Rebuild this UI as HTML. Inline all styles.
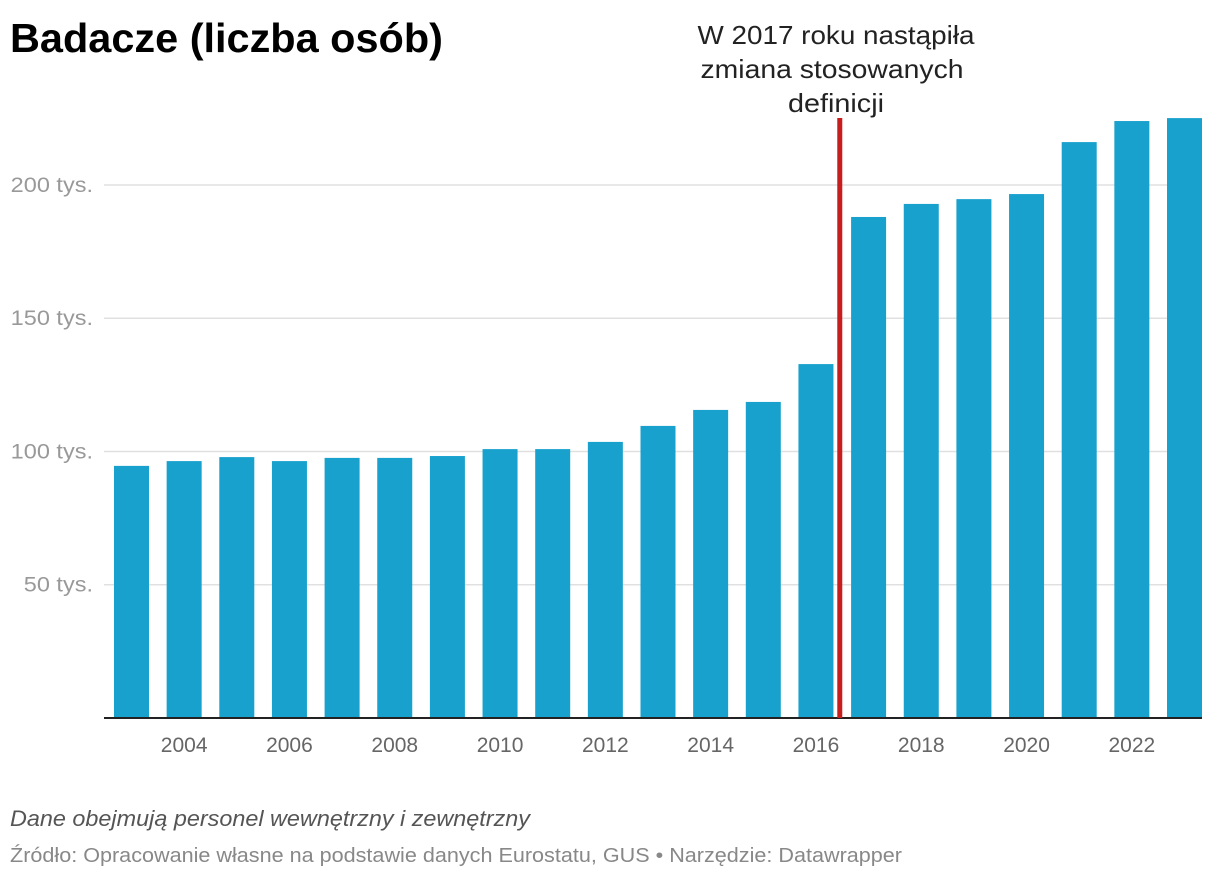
<!DOCTYPE html>
<html><head><meta charset="utf-8"><style>
body{margin:0;background:#fff;width:1220px;height:878px;overflow:hidden;font-family:"Liberation Sans",sans-serif}
</style></head><body>
<svg width="1220" height="878" id="svg">
<text x="10" y="52" font-size="41" font-weight="bold" fill="#000" textLength="433" lengthAdjust="spacingAndGlyphs">Badacze (liczba osób)</text>
<g id="grid"></g><g id="bars"></g>
<g font-size="26" fill="#222" text-anchor="middle">
<text x="836" y="44" textLength="277" lengthAdjust="spacingAndGlyphs">W 2017 roku nastąpiła</text>
<text x="832" y="78" textLength="263" lengthAdjust="spacingAndGlyphs">zmiana stosowanych</text>
<text x="836" y="112" textLength="96" lengthAdjust="spacingAndGlyphs">definicji</text></g>
<text x="10" y="826" font-size="22" font-style="italic" fill="#555" textLength="520" lengthAdjust="spacingAndGlyphs">Dane obejmują personel wewnętrzny i zewnętrzny</text>
<text x="10" y="862" font-size="20" fill="#888" textLength="892" lengthAdjust="spacingAndGlyphs">Źródło: Opracowanie własne na podstawie danych Eurostatu, GUS • Narzędzie: Datawrapper</text>
</svg>
<script>
const years=[2003,2004,2005,2006,2007,2008,2009,2010,2011,2012,2013,2014,2015,2016,2017,2018,2019,2020,2021,2022,2023];
const values=[94.6,96.4,97.9,96.4,97.6,97.6,98.3,100.9,100.9,103.6,109.6,115.6,118.6,132.8,188,192.9,194.7,196.6,216.1,224,225.1];
const yTicks=[50,100,150,200];
const yTickLabels=["50 tys.","100 tys.","150 tys.","200 tys."];
const xLabelYears=[2004,2006,2008,2010,2012,2014,2016,2018,2020,2022];
const ns="http://www.w3.org/2000/svg";
const y0=718,pxPerUnit=533/200,x0=114,step=52.65,bw=35;
const Y=v=>y0-v*pxPerUnit;
const X=yr=>x0+(yr-years[0])*step;
const grid=document.getElementById('grid'),bars=document.getElementById('bars');
function mk(t,a,p){const e=document.createElementNS(ns,t);for(const k in a)e.setAttribute(k,a[k]);p.appendChild(e);return e;}
yTicks.forEach((v,i)=>{
 const l=mk('line',{x1:104,x2:1202,y1:Y(v),y2:Y(v),stroke:'#e0e0e0','stroke-width':1.5},grid);
 
 
 const t=mk('text',{x:93,y:Y(v)+7,'font-size':21,fill:'#999','text-anchor':'end',transform:'translate(93 0) scale(1.12 1) translate(-93 0)'},grid);
 t.textContent=yTickLabels[i];
 
 
});
values.forEach((v,i)=>{
 const r=mk('rect',{x:X(years[i]),y:Y(v),width:bw,height:y0-Y(v),fill:'#18a1cd'},bars);
 
 
});
xLabelYears.forEach(yr=>{
 const t=mk('text',{x:X(yr)+bw/2,y:752,'font-size':21,fill:'#666','text-anchor':'middle'},bars);
 t.textContent=yr;
 
 
});
const ax=mk('line',{x1:104,x2:1202,y1:y0,y2:y0,stroke:'#222','stroke-width':2},bars);


const rl=mk('rect',{x:(X(2016)+bw+X(2017))/2-5,y:118,width:5,height:y0-118,fill:'#c71e1d'},bars);


</script>
</body></html>
